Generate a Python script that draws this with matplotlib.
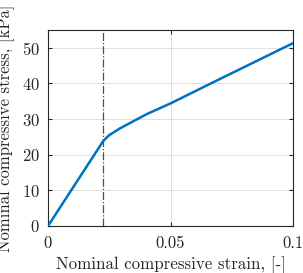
import numpy as np
import matplotlib.pyplot as plt

plt.rcParams['font.family'] = 'cmr10'
plt.rcParams['mathtext.fontset'] = 'cm'
plt.rcParams['axes.formatter.use_mathtext'] = True

strain = [0, 0.0226, 0.025, 0.0294, 0.0403, 0.05, 0.07, 0.1]
stress = [0, 23.9, 25.5, 27.4, 31.4, 34.4, 41.2, 51.3]
limit_strain = 0.0226

xticks = [0, 0.05, 0.1]
xticklabels = ['0', '0.05', '0.1']
yticks = [0, 10, 20, 30, 40, 50]

fig = plt.figure(figsize=(3.03, 2.73), dpi=100)
ax = fig.add_axes([48/303, 1 - 226/273, 245/303, 196/273])

ax.plot(strain, stress, color=(0, 0.447, 0.741), lw=1.8, zorder=3)
ax.axvline(limit_strain, color='0.3', ls='-.', lw=0.9, zorder=2)

ax.set_xlim(0, 0.1)
ax.set_ylim(0, 55)
ax.set_xticks(xticks)
ax.set_xticklabels(xticklabels)
ax.set_yticks(yticks)
ax.grid(True, color='0.88', lw=0.7)
ax.set_axisbelow(True)
ax.tick_params(direction='in', length=3, top=True, right=True, labelsize=12, colors='0.15')
ax.tick_params(axis='x', pad=7)
ax.tick_params(axis='y', pad=6)
for s in ax.spines.values():
    s.set_color('0.15')
    s.set_linewidth(0.8)

ax.set_xlabel('Nominal compressive strain, [-]', fontsize=12.2, labelpad=4, color='0.15')
ax.set_ylabel('Nominal compressive stress, [kPa]', fontsize=12, labelpad=5, color='0.15')

fig.savefig('out.png', dpi=100)
